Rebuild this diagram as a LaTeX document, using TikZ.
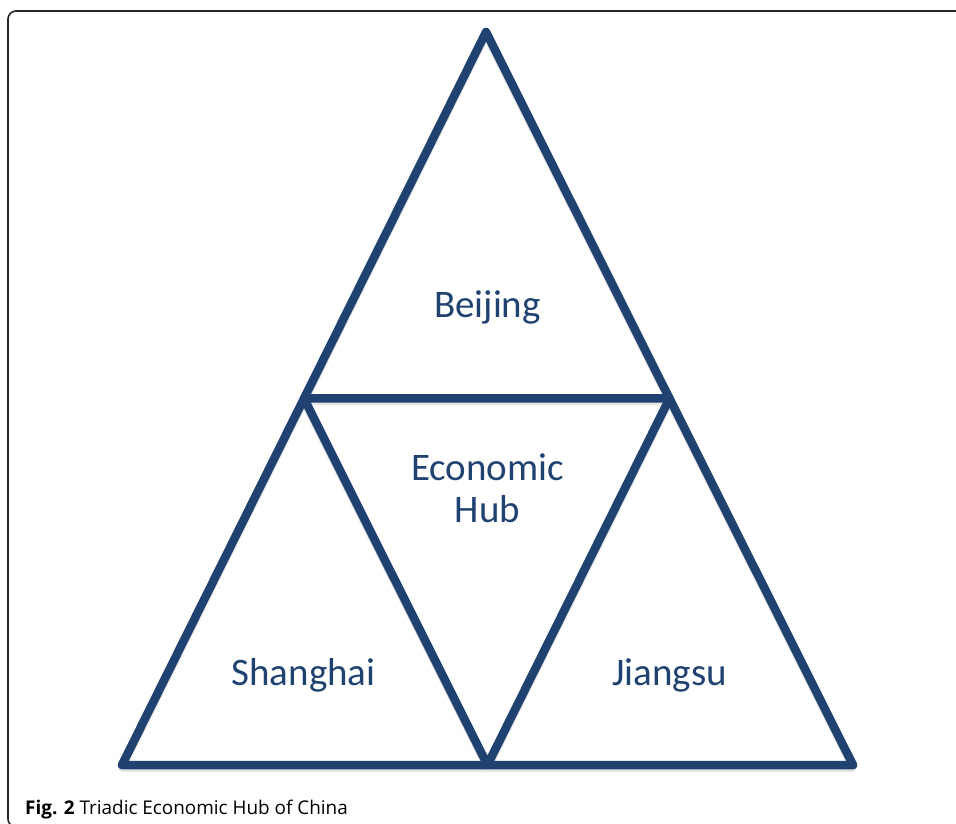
\documentclass[tikz,border=0pt]{standalone}
\usepackage{fontspec}
\setmainfont{Carlito}
\newfontfamily\capfont{Open Sans}
\definecolor{hubblue}{HTML}{1F4270}

\begin{document}
\begin{tikzpicture}[x=1pt,y=1pt,
    edge/.style={hubblue,line width=8.5pt,line join=round,line cap=round},
    shade/.style={black!10,line width=8pt,line join=round,transform canvas={yshift=-3pt}},
    region/.style={hubblue,inner sep=0pt,font=\fontsize{39}{42}\selectfont}]
		\useasboundingbox (0,0) rectangle (956,823);
		% frame of the figure
		\draw[line width=1.6pt,black!85,rounded corners=8pt] (8,-4) rectangle (990,812);
		% corners of the triangles
		\coordinate (top) at (486,791);
		\coordinate (bl) at (122,58);
		\coordinate (br) at (853,58);
		\coordinate (ml) at (304,424.5);
		\coordinate (mr) at (669.5,424.5);
		\coordinate (mb) at (487.5,58);
		\draw[shade] (top) -- (bl) -- (br) -- cycle;
		\draw[shade] (ml) -- (mr) -- (mb) -- cycle;
		\draw[edge] (top) -- (bl) -- (br) -- cycle;
		\draw[edge] (ml) -- (mr) -- (mb) -- cycle;
		\node[region,anchor=base] (beijing) at (487.5,505) {Beijing};
		\node[region,anchor=center,align=center] (hub) at (487.5,335) {Economic\\Hub};
		\node[region,anchor=base] (shanghai) at (303.5,138) {Shanghai};
		\node[region,anchor=base] (jiangsu) at (669.5,138) {Jiangsu};
		\node[anchor=base west,inner sep=0pt,font=\capfont\fontsize{18.9}{22}\selectfont] (caption) at (25,9)
			{\textbf{Fig. 2} Triadic Economic Hub of China};
	\end{tikzpicture}
\end{document}
